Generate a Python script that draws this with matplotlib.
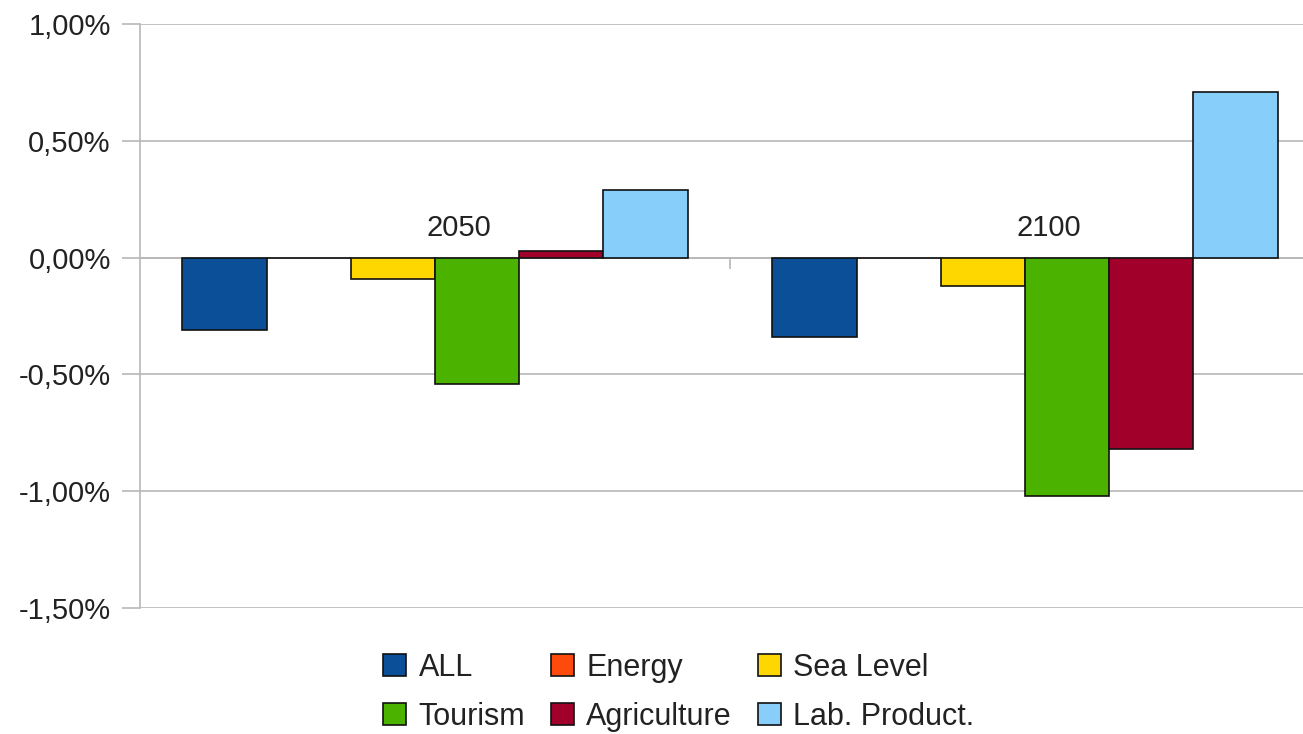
import numpy as np
import matplotlib.pyplot as plt
from matplotlib.patches import Patch
from matplotlib.ticker import FuncFormatter, FixedLocator

plt.rcParams['font.family'] = ['Liberation Sans', 'DejaVu Sans']

# impact on GDP (%) per scenario year
years = ['2050', '2100']
series = ['ALL', 'Energy', 'Sea Level', 'Tourism', 'Agriculture', 'Lab. Product.']
all_vals = [-0.31, -0.34]
energy_vals = [0.0, 0.0]
sea_vals = [-0.09, -0.12]
tourism_vals = [-0.54, -1.02]
agri_vals = [0.03, -0.82]
lab_vals = [0.29, 0.71]
colors = ['#0b4f98', '#ff4a0e', '#ffd700', '#4cb200', '#a0002a', '#87cefa']

values = [all_vals, energy_vals, sea_vals, tourism_vals, agri_vals, lab_vals]

fig = plt.figure(figsize=(13.03, 7.34), dpi=100)
ax = fig.add_axes([140 / 1303, 126 / 734, 1180 / 1303, 584 / 734])

x = np.arange(len(years))
w = 0.1427
n = len(series)
for k, (name, vals, col) in enumerate(zip(series, values, colors)):
    ax.bar(x + (k - (n - 1) / 2) * w, vals, width=w, color=col,
           edgecolor='#111111', linewidth=1.2, label=name, zorder=3)

ax.set_xlim(-0.5, 1.5)
ax.set_ylim(-1.5, 1.0)
ax.set_yticks(np.arange(-1.5, 1.01, 0.5))
ax.yaxis.set_major_formatter(FuncFormatter(lambda v, p: f"{v:.2f}%".replace('.', ',')))
ax.grid(axis='y', color='#b8b8b8', linewidth=1.2, zorder=0)
ax.tick_params(axis='y', length=13, width=1.2, color='#b8b8b8', pad=8,
               labelsize=21, labelcolor='#222222')

# category axis sits on the zero line
for s in ['top', 'right']:
    ax.spines[s].set_visible(False)
ax.spines['left'].set_color('#b8b8b8')
ax.spines['left'].set_linewidth(1.2)
ax.spines['bottom'].set_position(('data', 0))
ax.spines['bottom'].set_color('#b8b8b8')
ax.spines['bottom'].set_linewidth(1.2)
ax.xaxis.set_major_locator(FixedLocator([0.5]))
ax.set_xticklabels([''])
ax.tick_params(axis='x', length=8, width=1.2, color='#b8b8b8')

for i, yr in enumerate(years):
    ax.annotate(yr, (i + 0.04, 0), xytext=(0, 11), textcoords='offset points',
                ha='center', va='bottom', fontsize=21, color='#222222', zorder=4)

handles = [Patch(facecolor=c, edgecolor='#111111', linewidth=1.2) for c in colors]
order = [0, 3, 1, 4, 2, 5]
fig.legend([handles[i] for i in order], [series[i] for i in order],
           loc='center', bbox_to_anchor=(0.521, 0.057), ncol=3, frameon=False,
           fontsize=22, handlelength=0.75, handleheight=0.75, handletextpad=0.4,
           columnspacing=0.85, labelspacing=0.62, labelcolor='#222222')

fig.savefig('out.png', dpi=100)
